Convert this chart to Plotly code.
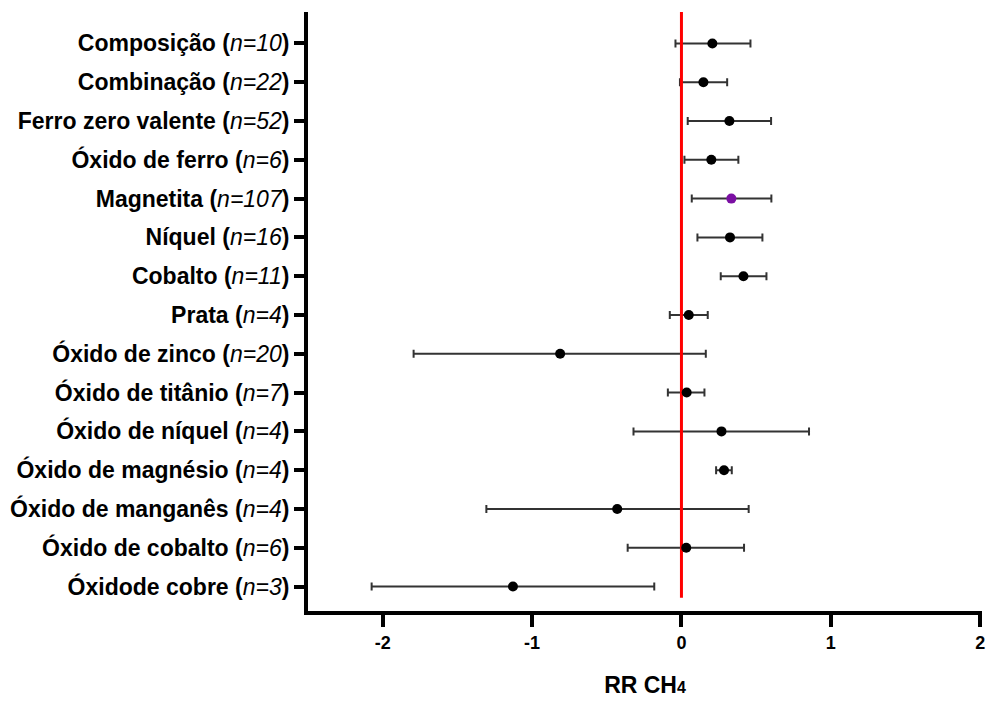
import plotly.graph_objects as go

categories = ["Composição", "Combinação", "Ferro zero valente", "Óxido de ferro",
              "Magnetita", "Níquel", "Cobalto", "Prata", "Óxido de zinco",
              "Óxido de titânio", "Óxido de níquel", "Óxido de magnésio",
              "Óxido de manganês", "Óxido de cobalto", "Óxidode cobre"]
n_values = [10, 22, 52, 6, 107, 16, 11, 4, 20, 7, 4, 4, 4, 6, 3]
rr_mean = [0.207, 0.147, 0.321, 0.200, 0.334, 0.325, 0.415, 0.049, -0.812,
           0.035, 0.268, 0.285, -0.430, 0.032, -1.128]
ci_low = [-0.040, -0.010, 0.042, 0.020, 0.069, 0.107, 0.263, -0.078, -1.793,
          -0.091, -0.321, 0.232, -1.306, -0.360, -2.074]
ci_high = [0.462, 0.306, 0.600, 0.381, 0.602, 0.542, 0.569, 0.176, 0.163,
           0.154, 0.854, 0.337, 0.450, 0.419, -0.182]
highlight = "Magnetita"
x_ticks = [-2, -1, 0, 1, 2]

FONT = "Liberation Sans, Arial, sans-serif"
idx = list(range(len(categories)))
ticktext = [f"<b>{c} (</b><i>n={n}</i><b>)</b>" for c, n in zip(categories, n_values)]
err_plus = [h - m for h, m in zip(ci_high, rr_mean)]
err_minus = [m - l for m, l in zip(rr_mean, ci_low)]
colors = ["#7B0FA3" if c == highlight else "black" for c in categories]

y_top, y_bot = -0.81, 14.63

fig = go.Figure()
# error bars
fig.add_trace(go.Scatter(
    x=rr_mean, y=idx, mode="markers",
    marker=dict(size=9, color="rgba(0,0,0,0)"),
    error_x=dict(type="data", symmetric=False, array=err_plus, arrayminus=err_minus,
                 color="#333333", thickness=2, width=4),
    showlegend=False, hoverinfo="skip"))
# reference line at zero
fig.add_trace(go.Scatter(
    x=[0, 0], y=[y_top, 14.29], mode="lines",
    line=dict(color="#FF0000", width=3), showlegend=False, hoverinfo="skip"))
# points
fig.add_trace(go.Scatter(
    x=rr_mean, y=idx, mode="markers",
    marker=dict(size=10, color=colors),
    showlegend=False))

fig.update_layout(
    width=988, height=702,
    margin=dict(l=308, r=3, t=12, b=91),
    plot_bgcolor="white", paper_bgcolor="white",
    font=dict(family=FONT, color="black"),
)
fig.update_xaxes(
    range=[-2.5, 2.012], tickvals=x_ticks,
    ticktext=[f"<b>{v}</b>" for v in x_ticks],
    tickfont=dict(size=18, family=FONT, color="black"),
    ticklabeloverflow="allow",
    showgrid=False, zeroline=False,
    showline=True, linecolor="black", linewidth=4,
    ticks="outside", ticklen=12, tickwidth=4, tickcolor="black",
    title=dict(text="<b>RR CH<span style='font-size:16px'>4</span></b>",
               font=dict(size=23, family=FONT, color="black"),
               standoff=26),
)
fig.update_yaxes(
    range=[y_bot, y_top], tickvals=idx, ticktext=ticktext,
    tickfont=dict(size=23, family=FONT, color="black"),
    showgrid=False, zeroline=False,
    showline=True, linecolor="black", linewidth=4,
    ticks="outside", ticklen=10, tickwidth=4, tickcolor="black",
)

fig.write_html("out.html")
